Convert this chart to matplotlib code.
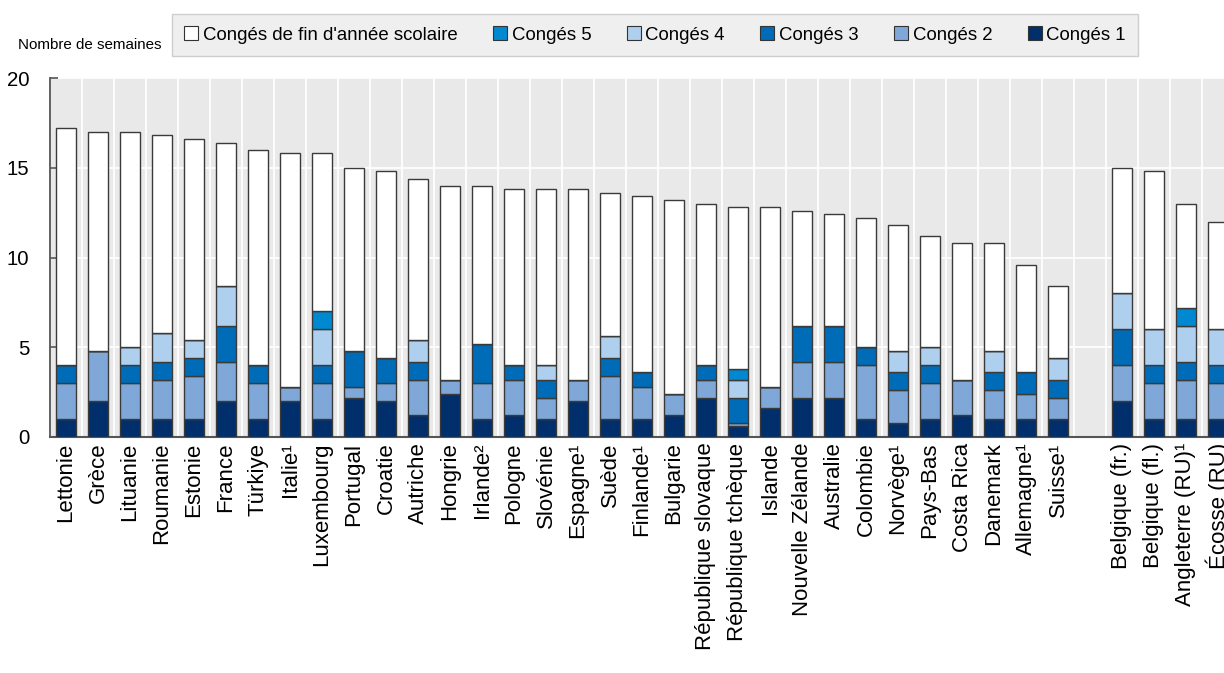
import matplotlib
matplotlib.use("Agg")
import matplotlib.pyplot as plt
from matplotlib.patches import Patch
from matplotlib import font_manager

# pick a narrow sans if the machine has one, the reference text is condensed
installed = {f.name for f in font_manager.fontManager.ttflist}
NARROW = "Liberation Sans Narrow" if "Liberation Sans Narrow" in installed else "Liberation Sans"
SCALE = 1.0 if NARROW == "Liberation Sans Narrow" else 0.84

countries = ["Lettonie", "Grèce", "Lituanie", "Roumanie", "Estonie", "France", "Türkiye",
             "Italie¹", "Luxembourg", "Portugal", "Croatie", "Autriche", "Hongrie", "Irlande²",
             "Pologne", "Slovénie", "Espagne¹", "Suède", "Finlande¹", "Bulgarie",
             "République slovaque", "République tchèque", "Islande", "Nouvelle Zélande",
             "Australie", "Colombie", "Norvège¹", "Pays-Bas", "Costa Rica", "Danemark",
             "Allemagne¹", "Suisse¹",
             "Belgique (fr.)", "Belgique (fl.)", "Angleterre (RU)¹", "Écosse (RU)"]

conges1 = [1, 2, 1, 1, 1, 2, 1, 2, 1, 2.2, 2, 1.2, 2.4, 1, 1.2, 1, 2, 1, 1, 1.2,
           2.2, 0.6, 1.6, 2.2, 2.2, 1, 0.8, 1, 1.2, 1, 1, 1,
           2, 1, 1, 1]
conges2 = [2, 2.8, 2, 2.2, 2.4, 2.2, 2, 0.8, 2, 0.6, 1, 2, 0.8, 2, 2, 1.2, 1.2, 2.4, 1.8, 1.2,
           1, 0.2, 1.2, 2, 2, 3, 1.8, 2, 2, 1.6, 1.4, 1.2,
           2, 2, 2.2, 2]
conges3 = [1, 0, 1, 1, 1, 2, 1, 0, 1, 2, 1.4, 1, 0, 2.2, 0.8, 1, 0, 1, 0.8, 0,
           0.8, 1.4, 0, 2, 2, 1, 1, 1, 0, 1, 1.2, 1,
           2, 1, 1, 1]
conges4 = [0, 0, 1, 1.6, 1, 2.2, 0, 0, 2, 0, 0, 1.2, 0, 0, 0, 0.8, 0, 1.2, 0, 0,
           0, 1.0, 0, 0, 0, 0, 1.2, 1, 0, 1.2, 0, 1.2,
           2, 2, 2, 2]
conges5 = [0, 0, 0, 0, 0, 0, 0, 0, 1, 0, 0, 0, 0, 0, 0, 0, 0, 0, 0, 0,
           0, 0.6, 0, 0, 0, 0, 0, 0, 0, 0, 0, 0,
           0, 0, 1, 0]
fin_annee = [13.2, 12.2, 12.0, 11.0, 11.2, 8.0, 12.0, 13.0, 8.8, 10.2, 10.4, 9.0, 10.8, 8.8,
             9.8, 9.8, 10.6, 8.0, 9.8, 10.8, 9.0, 9.0, 10.0, 6.4, 6.2, 7.2, 7.0, 6.2, 7.6,
             6.0, 6.0, 4.0,
             7.0, 8.8, 5.8, 6.0]

series = [
    ("Congés 1", conges1, "#002f6c"),
    ("Congés 2", conges2, "#7fa8d9"),
    ("Congés 3", conges3, "#006bb6"),
    ("Congés 4", conges4, "#aecfee"),
    ("Congés 5", conges5, "#0088d0"),
    ("Congés de fin d'année scolaire", fin_annee, "#ffffff"),
]

# one empty slot between the countries and the sub-national systems
xpos = list(range(32)) + [33, 34, 35, 36]

fig = plt.figure(figsize=(12.24, 6.73), dpi=100)
ax = fig.add_axes([50 / 1224, (673 - 437) / 673, (1234 - 50) / 1224, (437 - 78) / 673])
ax.set_facecolor("#e9e9e9")

bottom = [0.0] * len(countries)
for name, vals, col in series:
    ax.bar(xpos, vals, 0.64, bottom=bottom, color=col, edgecolor="#3a3a3a",
           linewidth=1.0, label=name, zorder=3)
    bottom = [b + v for b, v in zip(bottom, vals)]

ax.set_xlim(-0.5, 36.5)
ax.set_ylim(0, 20)
ax.set_yticks([0, 5, 10, 15, 20])
ax.set_xticks(xpos)
ax.set_xticklabels(countries, rotation=90, fontsize=16, family="Liberation Sans")
ax.set_xticks([i + 0.5 for i in range(-1, 37)], minor=True)
ax.tick_params(axis="x", which="both", length=0, pad=4)
ax.tick_params(axis="y", direction="in", length=6, width=1.2, color="#555555", pad=15,
               labelsize=17.5 * SCALE)
for lab in ax.get_yticklabels():
    lab.set_family(NARROW)

ax.grid(True, axis="y", color="white", linewidth=1.3, zorder=0)
ax.grid(True, axis="x", which="minor", color="white", linewidth=1.3, zorder=0)
ax.set_axisbelow(True)
for side in ["top", "right"]:
    ax.spines[side].set_visible(False)
ax.spines["left"].set_color("#555555")
ax.spines["bottom"].set_color("#555555")
ax.spines["left"].set_linewidth(1.3)
ax.spines["bottom"].set_linewidth(1.5)

fig.text(18 / 1224, 1 - 45 / 673, "Nombre de semaines", fontsize=13 * SCALE,
         family=NARROW, va="center", ha="left")

# legend order as in the reference
handles = [Patch(facecolor=col, edgecolor="#333333", linewidth=0.8)
           for name, vals, col in series[::-1]]
labels = [name for name, vals, col in series[::-1]]
leg = fig.legend(handles, labels, loc="center", bbox_to_anchor=(655 / 1224, 1 - 35 / 673),
                 ncol=6, frameon=True, fancybox=False, handlelength=0.75, handleheight=0.75,
                 handletextpad=0.25, columnspacing=1.9, borderpad=0.65,
                 prop={"family": NARROW, "size": 16 * SCALE})
leg.get_frame().set_facecolor("#ebebeb")
leg.get_frame().set_edgecolor("#c4c4c4")
leg.get_frame().set_linewidth(1.0)

fig.savefig("out.png", dpi=100)
